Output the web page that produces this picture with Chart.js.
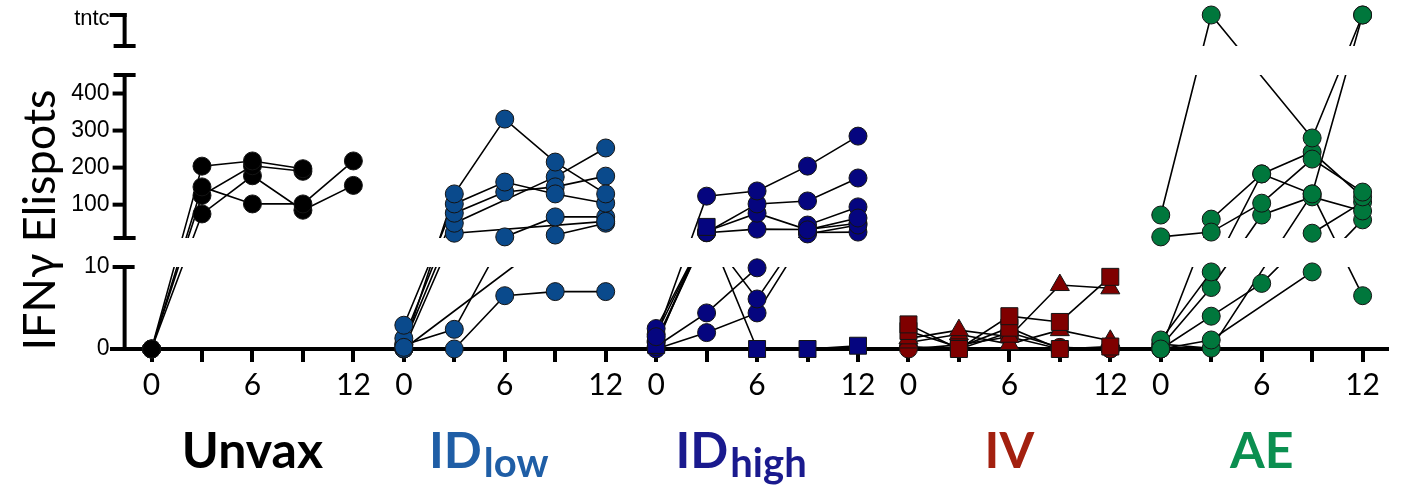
<!DOCTYPE html>
<html>
<head>
<meta charset="utf-8">
<title>IFNγ Elispots</title>
<script src="https://cdn.jsdelivr.net/npm/chart.js@4.4.1/dist/chart.umd.min.js"></script>
<style>
  html, body { margin: 0; padding: 0; background: #fff; }
  #wrap { width: 1408px; height: 486px; position: relative; }
</style>
</head>
<body>
<div id="wrap"><canvas id="elispotChart"></canvas></div>
<script>
// "too numerous to count" gets its own value on the top piece of the axis
const TNTC = 1000;

const timePoints = [0, 3, 6, 9, 12];
const xTickLabels = ['0', '', '6', '', '12'];
const yTickValues = [100, 200, 300, 400];
const groupNames = ['Unvax', 'ID', 'ID', 'IV', 'AE'];
const groupSubs = ['', 'low', 'high', '', ''];

// one row per animal, one value per time point (null = not measured)
const unvax = [
  [0, 204, 218, 197, null],
  [0, 148, 102, 102, 218],
  [0, 125, 205, 190, null],
  [0, 75, 178, 85, 152]
];
const idLow = [
  [0.2, 129, 331, 215, 129],
  [2.9, 102, 161, 129, 104],
  [1.3, 77, 134, 148, 177],
  [0.6, 50, null, 175, 253],
  [0, 23, null, null, 55],
  [0.5, 2.4, 13, 67, 67],
  [0, null, null, 18, 50],
  [0, 0, 6.5, 7, 7]
];
const idHigh = [
  [1.5, 123, 137, 204, 285],
  [0.5, 40, 0, 0, 0.4],
  [2.5, 25, 102, 110, 172],
  [1.8, 28, 77, 32, 64],
  [1.0, 25, 6.1, 45, 94],
  [0.3, 4.4, 9.9, 21, 45],
  [0, 2.0, 4.4, 25, 26],
  [0.8, 24, 34, 33, 50]
];
const idHighMarkers = ['circle', 'rect', 'circle', 'circle', 'circle', 'circle', 'circle', 'circle'];
const iv = [
  [3.0, 0, 4.0, 3.3, 8.8],
  [2.2, 0.2, 2.6, 0, 0.3],
  [1.3, 2.3, 1.5, 7.8, 7.4],
  [0.8, 1.8, 0.6, 2.3, 1.0],
  [0, 0.5, 1.5, 0, 0],
  [0.3, 0, 2.0, 0.2, 0]
];
const ivMarkers = ['rect', 'rect', 'triangle', 'triangle', 'circle', 'circle'];
const ae = [
  [72, TNTC, null, 280, TNTC],
  [13, 26, 104, 223, 134],
  [0, 61, 183, 242, 121],
  [1.1, 9.4, 183, 129, TNTC],
  [0.3, 7.5, 72, 121, 83],
  [0, 4.0, 8.0, 23, 107],
  [0, 1.1, null, 9.4, 59],
  [0.6, 0.1, null, 129, 6.5]
];

const groupSeries = [unvax, idLow, idHigh, iv, ae];
const groupMarkers = [null, null, idHighMarkers, ivMarkers, null];
const groupFill = ['#000000', '#0a4a8c', '#05057f', '#7f0000', '#00773c'];
const groupText = ['#000000', '#1f5ea6', '#1a1a8e', '#a3200f', '#0b8f50'];
const markerRadius = { circle: 9, rect: 12, triangle: 11 };

const GROUP_STEP = 15;   // x units between the start of two groups
const Y_AXIS_AT = -1.6;  // x value where the broken y axis stands

// broken y axis: value range -> share of the plot height, from the bottom
const Y_SEGMENTS = [
  { lo: 0, hi: 10, from: 0, to: 0.2455 },
  { lo: 10, hi: 450, from: 0.3323, to: 0.8204 },
  { lo: 900, hi: TNTC, from: 0.9072, to: 1 }
];

function toFrac(v) {
  let prev = null;
  for (const s of Y_SEGMENTS) {
    if (v <= s.hi) {
      if (v >= s.lo || !prev) return s.from + (v - s.lo) / (s.hi - s.lo) * (s.to - s.from);
      return prev.to + (v - prev.hi) / (s.lo - prev.hi) * (s.from - prev.to);
    }
    prev = s;
  }
  return 1;
}
function fromFrac(f) {
  let prev = null;
  for (const s of Y_SEGMENTS) {
    if (f <= s.to) {
      if (f >= s.from || !prev) return s.lo + (f - s.from) / (s.to - s.from) * (s.hi - s.lo);
      return prev.hi + (f - prev.to) / (s.from - prev.to) * (s.lo - prev.hi);
    }
    prev = s;
  }
  return TNTC;
}

class BrokenScale extends Chart.LinearScale {
  getPixelForValue(value) {
    if (value === null || value === undefined || isNaN(value)) return NaN;
    return this.bottom - toFrac(value) * (this.bottom - this.top);
  }
  getValueForPixel(pixel) {
    return fromFrac((this.bottom - pixel) / (this.bottom - this.top));
  }
}
BrokenScale.id = 'broken';
BrokenScale.defaults = Chart.LinearScale.defaults;
Chart.register(BrokenScale);

// pixel edges of one piece of the broken axis
function segEdges(y, s) {
  const h = y.bottom - y.top;
  return { top: y.bottom - s.to * h, bottom: y.bottom - s.from * h };
}

const xTicks = [];
groupSeries.forEach((_, g) => timePoints.forEach(t => xTicks.push(g * GROUP_STEP + t)));

function xLabel(v) {
  const g = Math.floor((v + 1) / GROUP_STEP);
  const i = timePoints.indexOf(Math.round(v - g * GROUP_STEP));
  return i < 0 ? '' : xTickLabels[i];
}

const lineSets = [];
const pointSets = [];
groupSeries.forEach((series, g) => {
  series.forEach((vals, a) => {
    const pts = [];
    vals.forEach((v, i) => {
      if (v !== null) pts.push({ x: g * GROUP_STEP + timePoints[i], y: v });
    });
    lineSets.push({
      data: pts, showLine: true, borderColor: '#000', borderWidth: 1.6,
      pointRadius: 0, order: 2, clip: false, brokenClip: true
    });
    const marker = groupMarkers[g] ? groupMarkers[g][a] : 'circle';
    pointSets.push({
      data: pts.map(p => ({ ...p })), showLine: false, pointStyle: marker,
      pointRadius: markerRadius[marker], pointBackgroundColor: groupFill[g],
      pointBorderColor: '#141414', pointBorderWidth: 1, order: 1, clip: false
    });
  });
});

function hline(ctx, x1, x2, y) {
  ctx.beginPath(); ctx.moveTo(x1, y); ctx.lineTo(x2, y); ctx.stroke();
}
function vline(ctx, x, y1, y2) {
  ctx.beginPath(); ctx.moveTo(x, y1); ctx.lineTo(x, y2); ctx.stroke();
}

const brokenAxisPlugin = {
  id: 'brokenAxis',
  beforeDatasetsDraw(chart) {
    const ctx = chart.ctx;
    const y = chart.scales.y;
    const ax = chart.scales.x.getPixelForValue(Y_AXIS_AT);
    const [bot, mid, top] = Y_SEGMENTS.map(s => segEdges(y, s));
    ctx.save();
    ctx.strokeStyle = '#000';
    ctx.lineWidth = 4;
    ctx.lineCap = 'butt';

    // bottom piece 0..10
    vline(ctx, ax, bot.bottom, bot.top - 2);
    hline(ctx, ax - 12, ax + 10, bot.top);
    // middle piece
    vline(ctx, ax, mid.bottom + 2, mid.top - 2);
    hline(ctx, ax - 11, ax + 11, mid.bottom);
    hline(ctx, ax - 11, ax + 11, mid.top);
    yTickValues.forEach(v => hline(ctx, ax - 12, ax, y.getPixelForValue(v)));
    // top piece
    vline(ctx, ax, top.bottom + 2, top.top - 2);
    hline(ctx, ax - 11, ax + 11, top.bottom);
    hline(ctx, ax - 15, ax + 2, top.top);

    ctx.fillStyle = '#000';
    ctx.textAlign = 'right';
    ctx.textBaseline = 'middle';
    ctx.font = '23px "Liberation Sans", Arial, sans-serif';
    ctx.fillText('0', ax - 15, y.getPixelForValue(0));
    ctx.fillText('10', ax - 15, y.getPixelForValue(10));
    yTickValues.forEach(v => ctx.fillText(String(v), ax - 15, y.getPixelForValue(v)));
    ctx.textBaseline = 'alphabetic';
    ctx.font = '22px "Liberation Sans", Arial, sans-serif';
    ctx.fillText('tntc', ax - 15, top.top + 10);

    // axis title
    ctx.save();
    ctx.translate(40, 220);
    ctx.rotate(-Math.PI / 2);
    ctx.textAlign = 'center';
    ctx.textBaseline = 'middle';
    ctx.font = '45px Lato, sans-serif';
    ctx.fillText('IFNγ Elispots', 0, 0);
    ctx.restore();
    ctx.restore();
  },
  beforeDatasetDraw(chart, args) {
    if (!chart.data.datasets[args.index].brokenClip) return;
    const ctx = chart.ctx;
    const y = chart.scales.y;
    ctx.save();
    ctx.beginPath();
    Y_SEGMENTS.forEach((s, i) => {
      const e = segEdges(y, s);
      const top = i === Y_SEGMENTS.length - 1 ? 0 : e.top;
      const bottom = i === 0 ? chart.height : e.bottom;
      ctx.rect(0, top, chart.width, bottom - top);
    });
    ctx.clip();
  },
  afterDatasetDraw(chart, args) {
    if (chart.data.datasets[args.index].brokenClip) chart.ctx.restore();
  },
  afterDraw(chart) {
    const ctx = chart.ctx;
    const x = chart.scales.x;
    ctx.save();
    ctx.textBaseline = 'alphabetic';
    ctx.textAlign = 'left';
    groupNames.forEach((name, g) => {
      const main = 'bold 50px Lato, sans-serif';
      const sub = 'bold 40px Lato, sans-serif';
      ctx.font = main;
      const w1 = ctx.measureText(name).width;
      let w2 = 0;
      if (groupSubs[g]) { ctx.font = sub; w2 = ctx.measureText(groupSubs[g]).width + 2; }
      const cx = x.getPixelForValue(g * GROUP_STEP + 6) - (groupSubs[g] ? 16 : 0);
      const left = cx - (w1 + w2) / 2;
      ctx.fillStyle = groupText[g];
      ctx.font = main;
      ctx.fillText(name, left, 468);
      if (groupSubs[g]) {
        ctx.font = sub;
        ctx.fillText(groupSubs[g], left + w1 + 2, 477);
      }
    });
    ctx.restore();
  }
};

new Chart(document.getElementById('elispotChart'), {
  type: 'scatter',
  data: { datasets: [...lineSets, ...pointSets] },
  options: {
    responsive: true,
    maintainAspectRatio: false,
    animation: false,
    events: [],
    layout: { padding: { left: 112, right: 21, top: 15, bottom: 78 } },
    plugins: { legend: { display: false }, tooltip: { enabled: false } },
    scales: {
      x: {
        type: 'linear',
        min: -2.35,
        max: 73.45,
        afterBuildTicks: (scale) => { scale.ticks = xTicks.map(v => ({ value: v })); },
        ticks: {
          autoSkip: false, maxRotation: 0, minRotation: 0, padding: 5,
          color: '#000', font: { family: 'Lato', size: 30 },
          callback: (v) => xLabel(v)
        },
        grid: {
          drawOnChartArea: false, drawTicks: true, tickLength: 13,
          tickWidth: 4, tickColor: '#000', color: '#000', lineWidth: 4
        },
        border: { display: true, color: '#000', width: 4 }
      },
      y: {
        type: 'broken',
        display: false,
        min: 0,
        max: TNTC
      }
    }
  },
  plugins: [brokenAxisPlugin]
});
</script>
</body>
</html>
